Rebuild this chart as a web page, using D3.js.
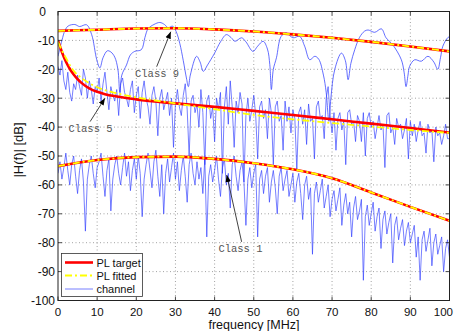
<!DOCTYPE html>
<html><head><meta charset="utf-8">
<script src="https://cdn.jsdelivr.net/npm/d3@7"></script>
<style>body{margin:0;background:#fff}svg{display:block}</style>
</head><body><svg id="c" width="454" height="331"></svg>
<script>
// ---------- data ----------
const xTicks = [0,10,20,30,40,50,60,70,80,90,100];
const xTickLabels = ["0","10","20","30","40","50","60","70","80","90","100"];
const yTicks = [0,-10,-20,-30,-40,-50,-60,-70,-80,-90,-100];
const yTickLabels = ["0","-10","-20","-30","-40","-50","-60","-70","-80","-90","-100"];

// PL curves (frequency MHz, dB)
const pl9F = [0,10,20,30,40,50,60,70,80,90,100];
const pl9Target = [-6.7,-6.3,-5.9,-5.8,-6.2,-6.9,-7.9,-9.1,-10.5,-12.1,-13.8];
const pl9Fitted = [-6.7,-6.3,-5.9,-5.8,-6.2,-6.9,-7.9,-9.1,-10.5,-12.1,-13.8];

const pl5TargetF = [0,1,2,3,4,5,6,8,10,12,15,20,30,40,50,60,70,80,90,100];
const pl5Target = [-10,-14,-17.3,-19.8,-21.8,-23.4,-24.7,-26.6,-27.8,-28.6,-29.4,-30.4,-31.8,-33,-34.4,-35.8,-37.3,-38.8,-40.3,-41.9];
const pl5FittedF = [0,1,2,3,4,6,8,10,15,20,30,40,50,60,70,80,90,100];
const pl5Fitted = [-10.5,-13.5,-16,-18.5,-20.5,-23,-24.8,-26.2,-28.3,-29.7,-31.8,-33.8,-35.8,-37.3,-38.6,-39.8,-41,-42];

const pl1F = [0,10,20,30,40,50,60,70,80,90,100];
const pl1Target = [-53.5,-51.4,-50.4,-50.2,-51,-52.5,-54.6,-57.7,-62.6,-67.6,-72.4];
const pl1Fitted = [-53.5,-51.4,-50.4,-50.2,-51,-52.5,-54.6,-57.7,-62.6,-67.6,-72.4];

// channel class 9 (smooth)
const ch9F = [0,1,1.8,2.6,4.3,5.5,7.3,8.6,9.9,10.7,11.5,12.6,13.5,14.5,15.3,15.8,16.3,17.5,18.5,19.6,21.3,22.2,23,24.5,26,27.2,28.1,29.3,30.2,31.1,32,32.8,33.3,33.8,35.4,36.3,37.1,38.2,40,41.5,43,44.2,45.2,46.9,48,49.8,51,52.4,53.5,54.1,54.5,55,55.8,57,58.3,60,61.7,63,64.3,65.6,66.6,67.8,68.5,69.2,69.7,70.7,72.4,73.4,74.1,74.8,75.8,77,78.3,79.2,80.9,82.6,83.8,85.5,87.7,88.4,88.9,89.4,89.8,91.1,92.8,94.5,96,97,97.7,98.3,99.6,100];
const ch9 = [-15.5,-10,-6.5,-5,-4.5,-5.2,-4.6,-8,-16.7,-19.5,-16,-13.6,-14,-15.8,-20,-28,-22,-18.5,-15,-13.8,-13.2,-9,-6,-4.5,-3.8,-4.5,-5.6,-5.1,-7,-11,-17,-23,-26,-22,-15.5,-17.5,-20.7,-18.5,-14.4,-10.5,-8,-9,-10.3,-9.1,-10.5,-13.8,-12,-10.3,-13,-18.4,-27,-20,-16,-8.6,-7.4,-9.1,-8.6,-12,-16.7,-15.5,-16.5,-22,-28,-38,-30,-20,-14.4,-17,-23.6,-18,-13.2,-9,-6.8,-6.4,-7.2,-6,-9.1,-11.5,-16.7,-21,-26,-22,-19,-16.7,-17.2,-15.5,-17.5,-20,-16,-12,-9,-8.8];

// channel class 5 and class 1 sampled every 0.5 MHz from 0 to 100
const ch5 = [-19,-22,-17,-24,-27,-21,-28,-31,-25,-27,-22,-26,-29,-20,-23,-30,-24,-27,-32,-26,-28,
-23,-31,-25,-21,-28,-34,-26,-29,-31,-27,-36,-25,-23,-28,-30,-33,-27,-24,-35,-29,
-26,-37,-28,-24,-30,-33,-39,-29,-26,-31,-43,-30,-27,-34,-31,-28,-36,-30,-47,-32,
-27,-33,-36,-29,-25,-34,-50,-31,-29,-35,-32,-40,-27,-35,-53,-31,-29,-37,-33,-45,
-30,-34,-28,-56,-33,-26,-39,-24,-33,-47,-31,-35,-28,-32,-59,-36,-30,-38,-34,-29,
-36,-51,-33,-31,-37,-34,-44,-30,-35,-53,-33,-31,-38,-36,-48,-31,-38,-33,-42,-34,
-37,-55,-35,-33,-39,-34,-46,-32,-38,-37,-51,-33,-31,-37,-36,-44,-30,-26,-36,-42,
-35,-48,-37,-35,-41,-38,-53,-35,-34,-39,-38,-45,-36,-38,-45,-35,-50,-37,-35,-40,
-38,-44,-40,-36,-41,-39,-54,-36,-35,-42,-40,-46,-37,-40,-39,-44,-41,-37,-51,-38,
-43,-39,-45,-41,-38,-43,-42,-49,-39,-42,-41,-52,-40,-43,-42,-46,-43,-39,-44,-44];
const ch1 = [-56,-52,-58,-54,-49,-55,-60,-53,-50,-57,-63,-55,-51,-59,-76,-58,-53,-50,-56,-61,-54,
-52,-49,-57,-64,-55,-51,-69,-58,-53,-50,-56,-60,-54,-49,-57,-52,-62,-55,-51,-58,
-50,-56,-71,-58,-53,-49,-55,-61,-52,-48,-57,-64,-53,-70,-56,-51,-59,-54,-49,-58,
-52,-62,-55,-50,-57,-66,-53,-49,-56,-60,-52,-58,-54,-63,-51,-78,-57,-53,-59,-55,
-50,-58,-64,-54,-51,-60,-56,-68,-53,-50,-57,-62,-55,-52,-59,-74,-58,-54,-61,-56,
-53,-78,-58,-55,-63,-57,-54,-66,-59,-55,-61,-70,-57,-54,-62,-58,-55,-64,-60,-56,
-66,-59,-56,-63,-72,-60,-57,-65,-61,-84,-63,-59,-66,-62,-58,-68,-64,-60,-71,-65,
-62,-69,-65,-61,-74,-67,-63,-70,-66,-78,-68,-64,-72,-69,-65,-93,-71,-67,-74,-70,
-66,-76,-71,-68,-82,-72,-69,-77,-73,-70,-87,-74,-71,-79,-75,-72,-81,-76,-73,-80,
-77,-74,-85,-78,-93,-79,-76,-83,-79,-75,-88,-80,-77,-84,-81,-78,-90,-82,-79,-85];
const chF = d3.range(0, 100.001, 0.5);

// annotations
const annotLabels = ["Class 9","Class 5","Class 1"];
const annotTextF = [25.3, 8.3, 46.6];
const annotTextDB = [-21.3, -40.5, -82];
const arrowFromF = [25.2, 8.2, 46.9];
const arrowFromDB = [-19.1, -38.1, -79.7];
const arrowToF = [28.8, 12.0, 43.1];
const arrowToDB = [-7.0, -30.0, -56.6];

const legendLabels = ["PL target","PL fitted","channel"];

// ---------- drawing ----------
const svg = d3.select("#c");
const L = 58, R = 449.5, T = 11.5, B = 300.5;
const x = d3.scaleLinear().domain([0,100]).range([L,R]);
const y = d3.scaleLinear().domain([-100,0]).range([B,T]);

svg.append("rect").attr("width",454).attr("height",331).attr("fill","#fff");

svg.append("defs").append("clipPath").attr("id","clip")
  .append("rect").attr("x",L).attr("y",T).attr("width",R-L).attr("height",B-T);
svg.select("defs").append("marker").attr("id","ah")
  .attr("viewBox","0 0 10 10").attr("refX",10).attr("refY",5)
  .attr("markerWidth",7).attr("markerHeight",7).attr("markerUnits","userSpaceOnUse")
  .attr("orient","auto")
  .append("path").attr("d","M0,1 L10,5 L0,9 Z").attr("fill","#000");

// grid
const grid = svg.append("g");
grid.selectAll(".gx").data(xTicks.slice(1,-1)).enter().append("line")
  .attr("x1",d=>x(d)).attr("x2",d=>x(d)).attr("y1",T).attr("y2",B)
  .attr("stroke","#8a8a8a").attr("stroke-width",0.8).attr("stroke-dasharray","1,2.5");
grid.selectAll(".gy").data(yTicks.slice(1,-1)).enter().append("line")
  .attr("y1",d=>y(d)).attr("y2",d=>y(d)).attr("x1",L).attr("x2",R)
  .attr("stroke","#8a8a8a").attr("stroke-width",0.8).attr("stroke-dasharray","1,2.5");

const plot = svg.append("g").attr("clip-path","url(#clip)");
const lineXY = (fs, vs, curve) => d3.line().x((d,i)=>x(fs[i])).y(d=>y(d)).curve(curve)(vs);

const blue = "#3340ff";
plot.append("path").attr("d", lineXY(chF, ch1, d3.curveLinear))
  .attr("fill","none").attr("stroke",blue).attr("stroke-width",0.9).attr("stroke-opacity",0.75);
plot.append("path").attr("d", lineXY(chF, ch5, d3.curveLinear))
  .attr("fill","none").attr("stroke",blue).attr("stroke-width",0.9).attr("stroke-opacity",0.75);
plot.append("path").attr("d", lineXY(ch9F, ch9, d3.curveCatmullRom))
  .attr("fill","none").attr("stroke",blue).attr("stroke-width",0.9).attr("stroke-opacity",0.85);

const targets = [[pl9F,pl9Target],[pl5TargetF,pl5Target],[pl1F,pl1Target]];
const fitted = [[pl9F,pl9Fitted],[pl5FittedF,pl5Fitted],[pl1F,pl1Fitted]];
targets.forEach(([f,v])=>plot.append("path").attr("d",lineXY(f,v,d3.curveMonotoneX))
  .attr("fill","none").attr("stroke","#ff0000").attr("stroke-width",2.6));
fitted.forEach(([f,v])=>plot.append("path").attr("d",lineXY(f,v,d3.curveMonotoneX))
  .attr("fill","none").attr("stroke","#ffff00").attr("stroke-width",1.8)
  .attr("stroke-dasharray","7,3,2,3"));

// frame
svg.append("rect").attr("x",L).attr("y",T).attr("width",R-L).attr("height",B-T)
  .attr("fill","none").attr("stroke","#222").attr("stroke-width",1);

// tick marks (inward, all sides)
const tk = svg.append("g").attr("stroke","#222").attr("stroke-width",0.8);
xTicks.forEach(d=>{
  tk.append("line").attr("x1",x(d)).attr("x2",x(d)).attr("y1",B).attr("y2",B-4);
  tk.append("line").attr("x1",x(d)).attr("x2",x(d)).attr("y1",T).attr("y2",T+4);
});
yTicks.forEach(d=>{
  tk.append("line").attr("y1",y(d)).attr("y2",y(d)).attr("x1",L).attr("x2",L+4);
  tk.append("line").attr("y1",y(d)).attr("y2",y(d)).attr("x1",R).attr("x2",R-4);
});

// axes labels
const font = "Liberation Sans, Arial, Helvetica, sans-serif";
svg.append("g").selectAll("text").data(xTicks).enter().append("text")
  .attr("x",d=>d===100?453:x(d)).attr("y",315.5).attr("text-anchor",d=>d===100?"end":"middle")
  .attr("font-family",font).attr("font-size",11.5).attr("fill","#111")
  .text((d,i)=>xTickLabels[i]);
svg.append("g").selectAll("text").data(yTicks).enter().append("text")
  .attr("x",d=>d===0?46:55).attr("y",d=>y(d)+4.3).attr("text-anchor","end")
  .attr("font-family",font).attr("font-size",12).attr("fill","#111")
  .text((d,i)=>yTickLabels[i]);

svg.append("text").attr("x",254).attr("y",328.5).attr("text-anchor","middle")
  .attr("font-family",font).attr("font-size",12.5).attr("fill","#111").text("frequency [MHz]");
svg.append("text").attr("transform","translate(23,150) rotate(-90)").attr("text-anchor","middle")
  .attr("font-family",font).attr("font-size",13).attr("fill","#111").text("|H(f)| [dB]");

// annotations
const ann = svg.append("g");
annotLabels.forEach((lab,i)=>{
  ann.append("line").attr("x1",x(arrowFromF[i])).attr("y1",y(arrowFromDB[i]))
    .attr("x2",x(arrowToF[i])).attr("y2",y(arrowToDB[i]))
    .attr("stroke","#111").attr("stroke-width",0.8).attr("marker-end","url(#ah)");
  ann.append("text").attr("x",x(annotTextF[i])).attr("y",y(annotTextDB[i])+3.5)
    .attr("text-anchor","middle").attr("font-family","Liberation Mono, Courier New, monospace")
    .attr("font-size",10.5).attr("fill","#555").text(lab);
});

// legend
const lg = svg.append("g");
lg.append("rect").attr("x",61.5).attr("y",253.5).attr("width",81).attr("height",43)
  .attr("fill","#fff").attr("stroke","#333").attr("stroke-width",0.8);
const rowY = [262.5,275.5,289];
lg.append("line").attr("x1",65).attr("x2",93).attr("y1",rowY[0]).attr("y2",rowY[0])
  .attr("stroke","#ff0000").attr("stroke-width",2.6);
lg.append("line").attr("x1",65).attr("x2",93).attr("y1",rowY[1]).attr("y2",rowY[1])
  .attr("stroke","#ffff00").attr("stroke-width",1.8).attr("stroke-dasharray","7,3,2,3");
lg.append("line").attr("x1",65).attr("x2",93).attr("y1",rowY[2]).attr("y2",rowY[2])
  .attr("stroke",blue).attr("stroke-width",0.9).attr("stroke-opacity",0.75);
legendLabels.forEach((t,i)=>lg.append("text").attr("x",96.5).attr("y",rowY[i]+4)
  .attr("font-family",font).attr("font-size",11).attr("fill","#111").text(t));
</script></body></html>
